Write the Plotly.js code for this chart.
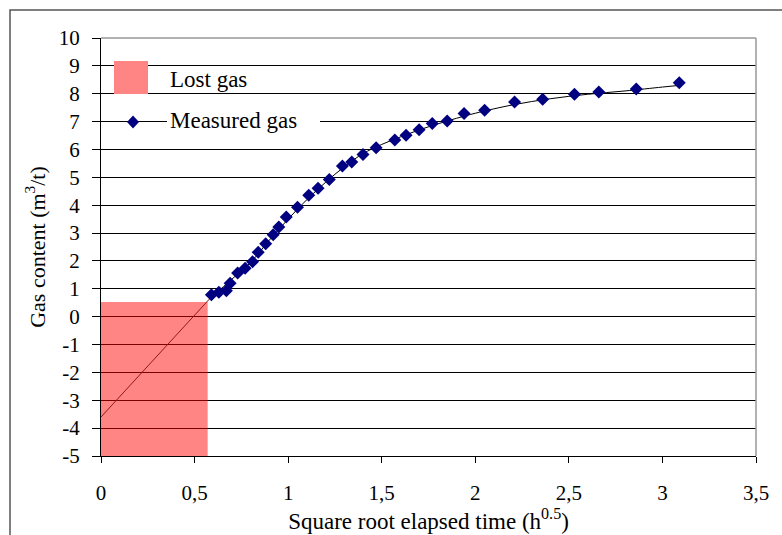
<!DOCTYPE html>
<html>
<head>
<meta charset="utf-8">
<script src="https://cdn.plot.ly/plotly-3.0.1.min.js"></script>
<style>html,body{margin:0;padding:0;background:#fff;}#chart{width:782px;height:535px;}</style>
</head>
<body>
<div id="chart"></div>
<script>
// Measured gas points (sqrt time h^0.5, gas content m3/t)
var measuredX = [0.59,0.63,0.67,0.69,0.73,0.77,0.81,0.84,0.88,0.92,0.95,0.99,1.05,1.11,1.16,1.22,1.29,1.34,1.40,1.47,1.57,1.63,1.70,1.77,1.85,1.94,2.05,2.21,2.36,2.53,2.66,2.86,3.09];
var measuredY = [0.79,0.88,0.93,1.20,1.57,1.74,1.97,2.31,2.62,2.94,3.22,3.58,3.93,4.36,4.61,4.92,5.41,5.55,5.82,6.06,6.34,6.51,6.71,6.93,7.02,7.29,7.41,7.70,7.80,7.98,8.06,8.17,8.39];
// Trend curve through measured points
var trendX = [0.59,0.70,0.80,0.90,1.00,1.10,1.20,1.30,1.40,1.50,1.60,1.70,1.80,1.90,2.00,2.20,2.40,2.60,2.80,3.00,3.09];
var trendY = [0.70,1.35,1.95,2.75,3.50,4.20,4.82,5.38,5.85,6.18,6.45,6.70,6.92,7.12,7.30,7.60,7.82,7.98,8.10,8.24,8.30];
// Lost gas back-extrapolation line
var lostLineX = [0, 0.59];
var lostLineY = [-3.6, 0.71];
// Lost gas region
var lostRegionX = [0, 0.57, 0.57, 0];
var lostRegionY = [-5, -5, 0.53, 0.53];
// Ticks
var xTickVals = [0, 0.5, 1, 1.5, 2, 2.5, 3, 3.5];
var xTickText = ['0','0,5','1','1,5','2','2,5','3','3,5'];
var yTickVals = [-5,-4,-3,-2,-1,0,1,2,3,4,5,6,7,8,9,10];
var yTickText = ['-5','-4','-3','-2','-1','0','1','2','3','4','5','6','7','8','9','10'];

var FONT = "'Liberation Serif', 'Times New Roman', serif";

var traces = [
  {x: lostRegionX, y: lostRegionY, type: 'scatter', mode: 'lines', fill: 'toself',
   fillcolor: 'rgba(255,0,0,0.48)', line: {width: 0}, hoverinfo: 'skip', showlegend: false},
  {x: lostLineX, y: lostLineY, type: 'scatter', mode: 'lines',
   line: {color: '#8B1A1A', width: 1}, showlegend: false},
  {x: trendX, y: trendY, type: 'scatter', mode: 'lines', line: {color: '#000', width: 1, shape: 'spline'}, showlegend: false},
  {x: measuredX, y: measuredY, type: 'scatter', mode: 'markers',
   marker: {symbol: 'diamond', size: 10, color: '#000080'}, showlegend: false}
];

function px2x(p){ return (p-101)/655; }
function px2y(p){ return (456-p)/418; }

var dcx = px2x(133), dcy = px2y(122), dhx = 6/655, dhy = 6.5/418;

var layout = {
  width: 782, height: 535,
  margin: {l: 101, r: 26, t: 38, b: 79},
  paper_bgcolor: '#fff', plot_bgcolor: '#fff',
  showlegend: false,
  font: {family: FONT, size: 20, color: '#000'},
  xaxis: {
    range: [0, 3.5], tickvals: xTickVals, ticktext: xTickText,
    showgrid: false, zeroline: false,
    showline: true, linecolor: '#000', linewidth: 1,
    ticks: 'outside', ticklen: 6, tickcolor: '#000', ticklabelstandoff: 12,
    tickfont: {family: FONT, size: 21, color: '#000'},
    title: {text: 'Square root elapsed time (h<sup>0.5</sup>)', font: {family: FONT, size: 23, color: '#000'}, standoff: 2}
  },
  yaxis: {
    range: [-5, 10], tickvals: yTickVals, ticktext: yTickText,
    showgrid: true, gridcolor: '#000', gridwidth: 1, zeroline: false,
    showline: true, linecolor: '#000', linewidth: 1,
    ticks: 'outside', ticklen: 8, tickcolor: '#000', ticklabelstandoff: 8,
    tickfont: {family: FONT, size: 21, color: '#000'},
    title: {text: 'Gas content (m<sup>3</sup>/t)', font: {family: FONT, size: 22, color: '#000'}, standoff: 7}
  },
  shapes: [
    {type: 'rect', xref: 'paper', yref: 'paper', x0: px2x(10), x1: px2x(800), y0: px2y(560), y1: px2y(10),
     line: {color: '#555', width: 1.5}, fillcolor: 'rgba(0,0,0,0)', layer: 'below'},
    {type: 'line', xref: 'paper', yref: 'paper', x0: 0, x1: 1, y0: 1, y1: 1, line: {color: '#999', width: 1.5}, layer: 'above'},
    {type: 'line', xref: 'paper', yref: 'paper', x0: 1, x1: 1, y0: 0, y1: 1, line: {color: '#999', width: 1.5}, layer: 'above'},
    {type: 'rect', xref: 'paper', yref: 'paper', x0: px2x(114), x1: px2x(148), y0: px2y(94), y1: px2y(61),
     line: {width: 0}, fillcolor: '#FF8585', layer: 'above'},
    {type: 'rect', xref: 'paper', yref: 'paper', x0: px2x(167), x1: px2x(320), y0: px2y(134), y1: px2y(110),
     line: {width: 0}, fillcolor: '#fff', layer: 'above'},
    {type: 'path', xref: 'paper', yref: 'paper', layer: 'above',
     path: 'M ' + (dcx-dhx) + ' ' + dcy + ' L ' + dcx + ' ' + (dcy+dhy) + ' L ' + (dcx+dhx) + ' ' + dcy + ' L ' + dcx + ' ' + (dcy-dhy) + ' Z',
     fillcolor: '#000080', line: {width: 0}}
  ],
  annotations: [
    {xref: 'paper', yref: 'paper', x: px2x(168), y: px2y(79), xanchor: 'left', yanchor: 'middle',
     text: 'Lost gas', showarrow: false, font: {family: FONT, size: 23, color: '#000'}},
    {xref: 'paper', yref: 'paper', x: px2x(168), y: px2y(121), xanchor: 'left', yanchor: 'middle',
     text: 'Measured gas', showarrow: false, font: {family: FONT, size: 23, color: '#000'}}
  ]
};

Plotly.newPlot('chart', traces, layout, {displayModeBar: false, staticPlot: true});
</script>
</body>
</html>
